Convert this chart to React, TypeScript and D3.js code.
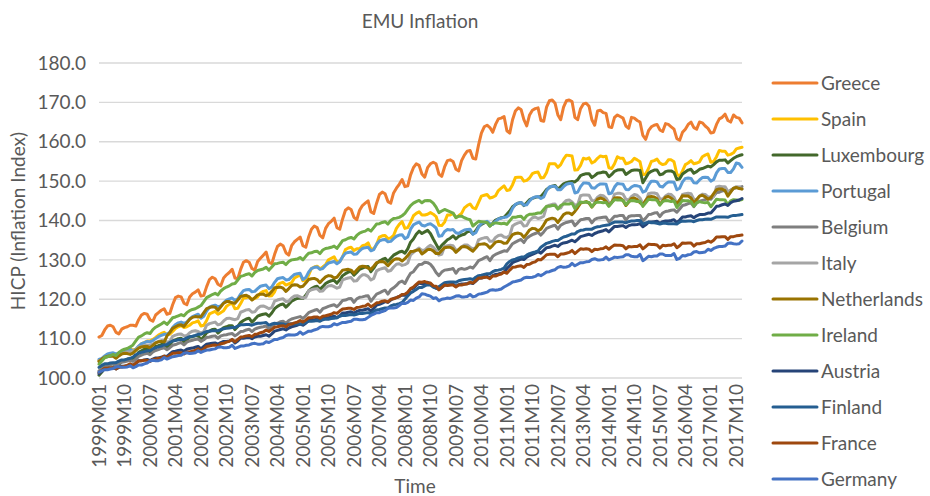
import React, { useEffect, useRef } from 'react';
import * as d3 from 'd3';

// months 1999M01 .. 2017M12
const years = [1999, 2000, 2001, 2002, 2003, 2004, 2005, 2006, 2007, 2008, 2009, 2010, 2011, 2012, 2013, 2014, 2015, 2016, 2017];
const monthCodes = ['01', '02', '03', '04', '05', '06', '07', '08', '09', '10', '11', '12'];
const categories = years.flatMap((yr) => monthCodes.map((m) => `${yr}M${m}`));

const xTickLabels = ['1999M01', '1999M10', '2000M07', '2001M04', '2002M01', '2002M10', '2003M07', '2004M04', '2005M01',
  '2005M10', '2006M07', '2007M04', '2008M01', '2008M10', '2009M07', '2010M04', '2011M01', '2011M10', '2012M07',
  '2013M04', '2014M01', '2014M10', '2015M07', '2016M04', '2017M01', '2017M10'];
const yTicks = [100, 110, 120, 130, 140, 150, 160, 170, 180];

// HICP index values, one row per year (Jan..Dec)
const greece = [
  110.4, 110.8, 112.2, 113.2, 113.4, 113.0, 111.6, 111.2, 112.4, 112.8, 113.0, 113.4,
  113.4, 113.2, 114.8, 116.0, 116.4, 116.2, 114.8, 114.4, 116.0, 116.6, 117.2, 117.6,
  116.2, 116.4, 118.6, 120.4, 120.8, 120.6, 119.0, 118.6, 120.6, 121.4, 121.8, 122.4,
  120.8, 121.0, 123.2, 125.0, 125.6, 125.2, 123.8, 123.4, 125.4, 126.2, 126.8, 127.6,
  125.4, 125.2, 127.6, 129.4, 129.8, 129.4, 127.8, 127.4, 129.6, 130.4, 131.2, 132.0,
  129.4, 129.0, 131.4, 133.4, 134.0, 133.6, 131.8, 131.2, 133.6, 134.6, 135.2, 135.8,
  133.6, 133.2, 135.8, 137.8, 138.6, 138.2, 136.2, 135.6, 138.0, 139.2, 139.8, 140.6,
  138.2, 137.8, 140.4, 142.6, 143.2, 142.8, 140.8, 140.2, 142.6, 143.8, 144.4, 145.0,
  142.2, 141.8, 144.4, 146.6, 147.2, 146.8, 144.8, 144.4, 147.0, 148.2, 149.2, 150.4,
  148.6, 148.8, 151.6, 153.4, 154.4, 154.0, 151.8, 151.0, 153.4, 154.4, 154.8, 154.4,
  151.8, 151.2, 153.6, 155.2, 155.4, 155.0, 153.0, 152.6, 155.2, 156.6, 157.6, 157.8,
  155.8, 155.6, 159.2, 162.2, 163.8, 164.2, 163.6, 162.4, 164.4, 165.8, 166.0, 166.4,
  162.8, 162.2, 165.6, 167.8, 168.6, 168.2, 165.6, 164.0, 166.8, 168.0, 168.4, 168.6,
  165.4, 165.2, 168.8, 170.4, 170.6, 169.8, 166.8, 165.6, 168.8, 170.4, 170.6, 170.2,
  166.2, 165.6, 168.4, 169.6, 169.8, 169.0, 165.6, 164.2, 167.8, 168.0, 167.4, 167.2,
  163.8, 163.6, 166.2, 166.8, 166.4, 166.0, 164.0, 163.4, 166.2, 166.0, 165.4, 165.0,
  161.6, 160.6, 162.8, 163.8, 164.2, 164.4, 163.0, 162.6, 164.6, 164.4, 163.8, 163.2,
  160.8, 160.4, 162.4, 163.2, 164.4, 165.0, 163.6, 163.2, 165.0, 164.8, 164.0, 163.4,
  162.2, 162.4, 164.4, 165.8, 166.2, 167.0, 165.4, 165.0, 166.8, 166.2, 166.0, 164.8,
];

const spain = [
  104.4, 104.5, 105.1, 105.7, 105.8, 105.9, 105.7, 105.9, 106.2, 106.7, 107.0, 107.3,
  107.1, 107.3, 108.0, 108.7, 109.0, 109.4, 109.4, 109.8, 110.3, 110.9, 111.3, 111.6,
  111.0, 111.1, 111.8, 112.6, 113.0, 113.3, 112.8, 113.0, 113.4, 114.0, 114.2, 114.5,
  113.2, 113.4, 114.6, 116.3, 116.6, 116.9, 116.2, 116.6, 117.1, 118.2, 118.7, 119.0,
  117.6, 117.7, 118.9, 120.3, 120.4, 120.6, 119.9, 120.2, 120.6, 121.6, 122.0, 122.2,
  120.8, 120.9, 121.9, 123.6, 124.1, 124.3, 123.6, 123.9, 124.2, 125.4, 125.8, 126.2,
  124.7, 124.9, 126.1, 127.8, 128.2, 128.4, 127.7, 128.2, 128.8, 130.0, 130.4, 130.8,
  129.4, 129.6, 130.8, 132.6, 133.0, 133.2, 132.4, 132.8, 132.8, 133.6, 133.8, 134.3,
  132.7, 132.8, 133.9, 135.8, 136.1, 136.2, 135.4, 135.6, 136.2, 138.0, 139.0, 139.7,
  138.0, 138.2, 139.6, 141.2, 141.8, 142.2, 141.4, 141.4, 141.6, 142.0, 141.6, 141.0,
  138.8, 138.7, 139.6, 141.4, 141.4, 141.8, 140.8, 141.2, 141.8, 143.2, 143.8, 144.2,
  143.2, 143.0, 144.6, 146.2, 146.4, 146.6, 145.7, 145.9, 146.3, 147.6, 148.2, 148.8,
  147.6, 147.8, 149.1, 150.9, 151.0, 151.0, 150.0, 150.2, 150.8, 151.9, 152.2, 152.3,
  150.8, 150.9, 152.2, 154.4, 154.4, 154.4, 153.5, 154.2, 155.6, 156.6, 156.5, 156.4,
  152.8, 152.9, 154.0, 155.8, 155.6, 155.9, 154.6, 155.0, 155.8, 156.4, 156.2, 156.3,
  153.4, 153.2, 154.4, 156.2, 155.8, 155.8, 154.4, 154.6, 155.0, 155.8, 155.4, 154.9,
  151.6, 151.8, 153.2, 155.0, 155.2, 155.6, 154.6, 154.2, 154.4, 155.4, 155.4, 154.9,
  151.8, 151.2, 152.6, 154.2, 154.6, 155.2, 154.4, 154.6, 154.9, 156.2, 156.6, 156.9,
  154.8, 155.0, 156.2, 157.8, 157.6, 157.6, 156.6, 156.8, 157.2, 158.2, 158.4, 158.6,
];

const luxembourg = [
  100.7, 101.5, 102.6, 103.1, 103.5, 103.7, 102.7, 103.4, 104.2, 104.5, 104.8, 104.9,
  104.6, 105.4, 106.5, 106.9, 107.3, 107.5, 106.5, 107.2, 108.0, 108.2, 108.5, 108.6,
  107.7, 108.4, 109.4, 109.7, 110.0, 110.1, 109.1, 109.7, 110.4, 110.5, 110.7, 110.7,
  109.7, 110.5, 111.5, 111.9, 112.3, 112.4, 111.4, 112.1, 112.8, 113.0, 113.3, 113.3,
  112.3, 113.1, 114.1, 114.6, 115.0, 115.2, 114.2, 114.9, 115.7, 116.0, 116.2, 116.3,
  115.7, 116.5, 117.6, 118.2, 118.6, 118.8, 118.0, 118.7, 119.5, 119.9, 120.2, 120.3,
  120.2, 121.0, 122.1, 122.7, 123.1, 123.3, 122.5, 123.2, 124.0, 124.4, 124.7, 124.8,
  124.1, 124.9, 126.0, 126.5, 126.9, 127.1, 126.1, 126.8, 127.6, 127.9, 128.2, 128.3,
  127.0, 127.9, 129.1, 129.7, 130.1, 130.4, 129.6, 130.4, 131.2, 131.6, 132.0, 132.2,
  131.7, 132.8, 134.5, 135.3, 136.5, 137.3, 136.7, 137.1, 137.5, 136.7, 135.3, 134.0,
  132.7, 133.7, 134.4, 135.1, 135.5, 136.1, 135.3, 136.0, 136.3, 136.5, 137.1, 137.3,
  136.6, 137.4, 138.5, 139.0, 139.4, 139.6, 138.6, 139.3, 140.1, 140.4, 140.7, 140.8,
  141.6, 142.4, 143.5, 144.0, 144.4, 144.6, 143.8, 144.5, 145.3, 145.6, 145.9, 146.0,
  146.1, 146.9, 147.9, 148.4, 148.7, 148.9, 147.9, 148.6, 149.3, 149.6, 149.8, 149.9,
  149.8, 150.4, 151.4, 151.7, 151.9, 151.9, 150.9, 151.4, 152.0, 152.1, 152.3, 152.2,
  151.1, 151.7, 152.5, 152.8, 152.9, 152.9, 151.7, 152.2, 152.7, 152.8, 152.8, 152.7,
  149.6, 150.8, 152.0, 152.5, 152.8, 152.8, 151.6, 151.8, 152.4, 152.6, 152.6, 152.2,
  150.4, 150.6, 151.8, 152.3, 152.8, 153.0, 152.0, 152.4, 153.0, 153.2, 153.5, 153.8,
  153.6, 154.2, 154.9, 155.3, 155.3, 155.4, 154.6, 155.2, 155.8, 156.2, 156.5, 156.7,
];

const portugal = [
  104.7, 105.0, 105.6, 106.1, 106.3, 106.4, 106.1, 106.3, 106.7, 107.0, 107.2, 107.3,
  106.9, 107.3, 108.1, 108.7, 109.0, 109.3, 109.2, 109.5, 110.0, 110.5, 110.8, 111.1,
  111.1, 111.6, 112.8, 113.6, 114.0, 114.2, 113.9, 114.2, 115.0, 115.6, 115.9, 116.2,
  115.2, 115.7, 117.0, 118.0, 118.3, 118.5, 118.1, 118.3, 119.1, 119.8, 120.1, 120.3,
  119.7, 120.1, 121.3, 122.2, 122.4, 122.5, 121.9, 122.0, 122.7, 123.3, 123.5, 123.6,
  122.7, 123.1, 124.3, 125.2, 125.4, 125.5, 124.9, 125.0, 125.7, 126.3, 126.5, 126.6,
  125.0, 125.5, 126.9, 127.8, 128.1, 128.2, 127.6, 127.8, 128.6, 129.2, 129.4, 129.6,
  129.0, 129.5, 130.8, 131.7, 131.9, 132.0, 131.4, 131.5, 132.3, 132.9, 133.1, 133.2,
  132.3, 132.6, 134.0, 134.8, 135.1, 135.2, 134.6, 134.7, 135.4, 136.0, 136.3, 136.4,
  135.4, 135.8, 137.8, 138.9, 139.3, 139.6, 138.8, 138.6, 139.0, 139.2, 138.7, 138.1,
  136.0, 136.1, 137.2, 137.7, 137.6, 137.7, 136.9, 136.7, 137.2, 137.6, 137.7, 137.8,
  136.5, 136.9, 138.3, 139.3, 139.5, 139.8, 139.2, 139.0, 139.8, 140.4, 140.6, 140.8,
  140.9, 141.5, 143.1, 144.1, 144.4, 144.6, 143.9, 144.0, 145.0, 145.7, 146.0, 146.1,
  145.6, 146.0, 147.6, 148.5, 148.7, 148.7, 147.8, 147.8, 148.6, 149.2, 149.4, 149.4,
  147.0, 147.2, 148.6, 149.5, 149.5, 149.4, 148.3, 148.2, 148.9, 149.3, 149.3, 149.2,
  146.8, 147.0, 148.5, 149.4, 149.3, 149.2, 147.9, 147.8, 148.5, 148.9, 148.8, 148.6,
  147.2, 147.5, 149.0, 150.0, 150.0, 149.8, 148.7, 148.5, 149.3, 149.8, 149.8, 149.7,
  147.8, 148.2, 149.8, 150.7, 150.8, 150.7, 149.6, 149.5, 150.3, 150.9, 151.0, 150.9,
  150.0, 150.4, 152.1, 153.1, 153.2, 153.2, 152.2, 152.2, 153.1, 154.6, 154.4, 153.5,
];

const belgium = [
  101.8, 102.4, 103.0, 103.1, 103.4, 103.6, 103.0, 103.7, 104.0, 104.1, 104.3, 104.5,
  104.2, 104.8, 105.5, 105.8, 106.1, 106.3, 105.9, 106.6, 107.0, 107.2, 107.5, 107.7,
  107.2, 107.7, 108.3, 108.5, 108.8, 109.0, 108.4, 109.1, 109.4, 109.6, 109.8, 109.9,
  109.3, 109.7, 110.3, 110.4, 110.6, 110.7, 110.1, 110.7, 110.9, 111.0, 111.2, 111.3,
  110.7, 111.2, 111.8, 111.9, 112.2, 112.4, 111.8, 112.4, 112.7, 112.9, 113.0, 113.2,
  112.5, 113.1, 113.7, 113.9, 114.3, 114.4, 113.9, 114.6, 115.0, 115.2, 115.4, 115.6,
  115.1, 115.8, 116.6, 116.9, 117.2, 117.4, 116.7, 117.6, 117.9, 118.2, 118.4, 118.6,
  118.1, 118.8, 119.7, 119.8, 120.1, 120.2, 119.2, 120.1, 120.5, 120.6, 120.8, 120.9,
  119.5, 120.4, 121.3, 121.6, 122.0, 122.3, 121.3, 122.4, 122.9, 123.5, 124.3, 124.6,
  124.0, 125.4, 126.6, 127.0, 128.0, 128.8, 128.9, 129.4, 129.3, 128.9, 128.0, 126.8,
  126.0, 126.9, 127.4, 127.5, 127.6, 127.8, 126.6, 127.6, 127.8, 127.6, 127.8, 128.2,
  127.9, 128.8, 129.8, 130.1, 130.5, 130.8, 129.8, 130.9, 131.4, 131.7, 132.0, 132.3,
  132.2, 133.1, 134.1, 134.5, 134.9, 135.2, 134.4, 135.5, 136.0, 136.4, 136.7, 137.0,
  136.3, 137.1, 138.0, 138.3, 138.6, 138.8, 137.8, 138.8, 139.2, 139.5, 139.7, 139.9,
  138.7, 139.4, 140.2, 140.3, 140.5, 140.5, 139.4, 140.3, 140.6, 140.7, 140.8, 140.9,
  139.7, 140.3, 141.1, 141.1, 141.3, 141.3, 140.1, 141.0, 141.2, 141.2, 141.3, 141.3,
  139.9, 140.6, 141.5, 141.6, 141.9, 142.0, 141.0, 141.9, 142.3, 142.4, 142.6, 142.7,
  142.1, 142.9, 143.8, 144.0, 144.3, 144.5, 143.5, 144.5, 144.9, 145.1, 145.3, 145.5,
  145.4, 146.2, 147.1, 147.2, 147.5, 147.7, 146.7, 147.7, 148.1, 148.3, 148.4, 148.6,
];

const italy = [
  104.4, 104.6, 105.2, 105.4, 105.6, 105.8, 105.7, 105.8, 106.2, 106.4, 106.6, 106.6,
  106.9, 107.1, 107.8, 108.0, 108.2, 108.4, 108.4, 108.6, 109.0, 109.3, 109.5, 109.6,
  109.1, 109.3, 110.6, 110.9, 111.1, 111.2, 110.7, 110.8, 111.5, 111.9, 112.0, 111.8,
  111.4, 111.8, 113.4, 113.8, 114.0, 114.2, 113.5, 113.7, 114.5, 115.1, 115.2, 115.0,
  114.8, 115.1, 116.7, 117.0, 117.3, 117.4, 116.7, 116.8, 117.7, 118.2, 118.3, 118.0,
  117.6, 117.9, 119.5, 119.8, 120.0, 120.1, 119.4, 119.5, 120.3, 120.8, 120.9, 120.6,
  120.3, 120.5, 122.1, 122.4, 122.6, 122.7, 122.0, 122.1, 122.9, 123.4, 123.5, 123.2,
  122.8, 123.1, 124.9, 125.2, 125.4, 125.5, 124.6, 124.7, 125.6, 126.2, 126.2, 125.8,
  124.9, 125.3, 127.2, 127.6, 127.8, 128.0, 127.1, 127.3, 128.2, 128.9, 129.0, 128.6,
  128.8, 129.2, 131.3, 131.9, 132.5, 133.0, 132.4, 132.5, 133.2, 133.7, 133.2, 132.4,
  131.2, 131.4, 133.4, 133.6, 133.7, 133.6, 132.5, 132.5, 133.3, 133.8, 133.8, 133.2,
  132.8, 133.1, 135.1, 135.4, 135.6, 135.7, 134.7, 134.7, 135.7, 136.2, 136.3, 135.8,
  135.7, 136.2, 138.6, 139.1, 139.4, 139.6, 138.6, 138.7, 140.0, 140.7, 140.9, 140.5,
  140.7, 141.1, 143.5, 143.9, 144.1, 144.2, 143.1, 143.2, 144.4, 145.1, 145.2, 144.7,
  143.9, 144.1, 146.3, 146.5, 146.5, 146.4, 145.1, 145.0, 145.9, 146.4, 146.3, 145.7,
  144.5, 144.6, 146.7, 146.9, 146.9, 146.7, 145.4, 145.2, 146.1, 146.6, 146.4, 145.7,
  144.3, 144.7, 146.8, 147.0, 147.0, 146.8, 145.5, 145.4, 146.2, 146.7, 146.6, 145.9,
  144.3, 144.4, 146.6, 146.8, 146.9, 146.8, 145.4, 145.3, 146.2, 146.7, 146.6, 146.0,
  146.0, 146.1, 148.5, 148.7, 148.6, 148.6, 147.4, 147.4, 148.2, 148.6, 148.5, 148.0,
];

const netherlands = [
  104.2, 104.8, 105.3, 105.5, 105.6, 105.5, 105.0, 105.6, 106.1, 106.3, 106.2, 106.0,
  106.3, 107.0, 107.6, 107.9, 108.0, 108.0, 107.7, 108.3, 108.9, 109.2, 109.3, 109.1,
  110.7, 111.6, 112.6, 113.0, 113.4, 113.5, 113.1, 114.0, 114.9, 115.4, 115.6, 115.5,
  115.6, 116.6, 117.6, 117.9, 118.1, 118.0, 117.2, 118.1, 119.0, 119.4, 119.4, 119.1,
  119.0, 119.8, 120.7, 120.9, 121.0, 120.6, 119.8, 120.4, 121.1, 121.3, 121.3, 120.9,
  121.2, 122.0, 122.9, 123.0, 123.1, 122.8, 122.0, 122.7, 123.5, 123.7, 123.6, 123.1,
  123.3, 124.1, 125.0, 125.2, 125.3, 125.0, 124.2, 125.0, 125.7, 126.0, 125.9, 125.4,
  125.6, 126.5, 127.4, 127.5, 127.6, 127.4, 126.6, 127.4, 128.2, 128.4, 128.3, 127.9,
  127.6, 128.4, 129.3, 129.5, 129.6, 129.3, 128.5, 129.3, 130.0, 130.3, 130.2, 129.7,
  130.3, 131.1, 132.1, 132.2, 132.4, 132.6, 131.5, 132.0, 132.6, 132.7, 132.3, 131.6,
  131.6, 132.4, 133.1, 133.2, 133.2, 132.8, 131.9, 132.6, 133.3, 133.4, 133.2, 132.7,
  132.2, 133.0, 133.9, 134.0, 134.1, 133.8, 133.0, 133.7, 134.5, 134.7, 134.6, 134.2,
  134.3, 135.4, 136.4, 136.7, 136.8, 136.6, 135.7, 136.6, 137.6, 138.0, 137.9, 137.4,
  137.8, 138.9, 140.1, 140.4, 140.6, 140.4, 139.5, 140.5, 141.5, 141.9, 141.9, 141.5,
  142.3, 143.3, 144.4, 144.6, 144.8, 144.4, 143.4, 144.3, 145.4, 145.7, 145.5, 144.8,
  143.8, 144.6, 145.7, 145.8, 145.7, 145.1, 143.8, 144.7, 145.6, 145.7, 145.3, 144.5,
  144.0, 145.1, 146.0, 146.1, 146.0, 145.5, 144.1, 145.0, 145.9, 146.1, 145.7, 145.0,
  144.3, 145.2, 146.3, 146.2, 146.2, 145.7, 144.4, 145.3, 146.2, 146.4, 146.0, 145.4,
  145.8, 146.8, 147.8, 148.0, 148.0, 147.6, 146.2, 147.2, 148.2, 148.4, 148.1, 148.0,
];

const ireland = [
  103.5, 104.3, 105.2, 105.4, 105.7, 106.0, 105.7, 106.5, 107.0, 107.3, 107.5, 107.9,
  108.4, 109.4, 110.4, 110.7, 111.2, 111.5, 111.3, 112.3, 112.9, 113.3, 113.7, 114.2,
  113.6, 114.4, 115.3, 115.5, 115.8, 116.1, 115.8, 116.6, 117.1, 117.4, 117.6, 118.0,
  118.4, 119.4, 120.4, 120.8, 121.2, 121.5, 121.1, 122.1, 122.7, 123.1, 123.4, 123.9,
  124.0, 124.9, 125.8, 126.0, 126.3, 126.5, 125.9, 126.8, 127.3, 127.5, 127.7, 128.1,
  127.4, 128.2, 129.0, 129.1, 129.3, 129.4, 128.8, 129.6, 130.0, 130.1, 130.2, 130.6,
  130.0, 130.9, 131.7, 131.8, 132.1, 132.2, 131.6, 132.5, 132.9, 133.0, 133.2, 133.5,
  132.9, 133.9, 134.9, 135.1, 135.5, 135.7, 135.3, 136.2, 136.8, 137.1, 137.3, 137.8,
  137.3, 138.2, 139.1, 139.2, 139.5, 139.7, 139.1, 140.0, 140.5, 140.6, 140.8, 141.2,
  141.8, 142.8, 143.8, 144.4, 144.8, 145.1, 144.5, 145.0, 145.1, 145.0, 144.4, 143.4,
  142.0, 142.4, 142.8, 142.5, 142.2, 141.9, 140.7, 141.1, 141.1, 140.7, 140.4, 140.2,
  138.6, 139.2, 139.8, 139.7, 139.6, 139.5, 138.6, 139.2, 139.4, 139.3, 139.2, 139.3,
  139.0, 139.9, 140.8, 140.8, 141.0, 141.1, 140.3, 141.2, 141.6, 141.6, 141.7, 141.9,
  141.9, 142.8, 143.6, 143.6, 143.8, 143.8, 142.9, 143.8, 144.2, 144.2, 144.2, 144.4,
  143.0, 143.9, 144.7, 144.6, 144.7, 144.6, 143.5, 144.4, 144.7, 144.6, 144.5, 144.6,
  143.6, 144.5, 145.3, 145.2, 145.2, 145.1, 144.0, 144.8, 145.1, 145.0, 144.8, 144.9,
  143.6, 144.5, 145.4, 145.3, 145.3, 145.1, 143.9, 144.8, 145.1, 145.0, 144.8, 145.0,
  143.3, 144.2, 145.1, 145.0, 145.0, 144.8, 143.6, 144.5, 144.8, 144.6, 144.5, 144.6,
  143.5, 144.4, 145.4, 145.3, 145.3, 145.2, 144.0, 145.0, 145.3, 145.2, 145.1, 145.3,
];

const austria = [
  101.1, 101.7, 102.3, 102.4, 102.5, 102.6, 102.3, 102.7, 103.0, 103.0, 103.1, 103.4,
  103.2, 103.7, 104.4, 104.4, 104.6, 104.7, 104.4, 104.8, 105.1, 105.1, 105.3, 105.5,
  105.5, 106.1, 106.7, 106.8, 107.0, 107.1, 106.8, 107.3, 107.5, 107.6, 107.8, 108.0,
  107.4, 108.0, 108.6, 108.7, 108.8, 108.9, 108.6, 109.0, 109.3, 109.3, 109.4, 109.7,
  108.9, 109.4, 110.1, 110.1, 110.2, 110.3, 110.0, 110.4, 110.6, 110.6, 110.8, 111.0,
  110.6, 111.2, 111.9, 112.1, 112.3, 112.5, 112.2, 112.7, 113.0, 113.2, 113.4, 113.7,
  113.4, 113.9, 114.6, 114.6, 114.8, 114.9, 114.6, 115.0, 115.3, 115.3, 115.5, 115.7,
  115.3, 115.8, 116.5, 116.5, 116.7, 116.8, 116.5, 116.9, 117.2, 117.2, 117.4, 117.6,
  117.0, 117.7, 118.5, 118.7, 119.0, 119.4, 119.2, 119.8, 120.2, 120.4, 120.7, 121.1,
  121.0, 121.5, 122.6, 122.8, 123.5, 124.1, 123.9, 124.0, 124.3, 123.9, 123.2, 122.8,
  122.5, 123.0, 123.6, 123.6, 123.7, 123.8, 123.3, 123.7, 123.9, 123.9, 124.0, 124.2,
  124.0, 124.6, 125.3, 125.4, 125.6, 125.8, 125.5, 126.0, 126.3, 126.4, 126.6, 126.9,
  127.8, 128.5, 129.3, 129.6, 129.9, 130.2, 130.1, 130.7, 131.1, 131.4, 131.7, 132.1,
  131.7, 132.4, 133.1, 133.2, 133.5, 133.7, 133.4, 134.0, 134.3, 134.4, 134.7, 135.0,
  134.6, 135.2, 135.9, 136.1, 136.3, 136.5, 136.2, 136.7, 137.0, 137.2, 137.4, 137.7,
  137.1, 137.8, 138.5, 138.5, 138.6, 138.7, 138.2, 138.7, 138.9, 138.9, 139.0, 139.2,
  138.4, 138.9, 139.6, 139.6, 139.7, 139.8, 139.3, 139.7, 139.9, 139.9, 140.0, 140.2,
  139.5, 140.1, 140.9, 140.9, 141.1, 141.2, 140.7, 141.2, 141.5, 141.5, 141.6, 141.9,
  141.9, 142.7, 143.6, 143.7, 144.0, 144.2, 143.8, 144.5, 144.9, 145.0, 145.2, 145.6,
];

const finland = [
  102.7, 103.2, 103.6, 103.6, 103.8, 103.9, 103.9, 104.3, 104.6, 104.6, 104.8, 105.0,
  105.3, 105.9, 106.3, 106.5, 106.7, 106.9, 106.9, 107.4, 107.7, 107.9, 108.1, 108.4,
  108.5, 109.0, 109.4, 109.5, 109.7, 109.8, 109.8, 110.2, 110.5, 110.6, 110.8, 111.1,
  111.1, 111.5, 111.8, 111.9, 112.0, 112.0, 112.0, 112.3, 112.5, 112.6, 112.7, 112.8,
  112.8, 113.2, 113.5, 113.5, 113.6, 113.6, 113.4, 113.7, 113.9, 113.9, 114.0, 114.1,
  113.4, 113.7, 113.9, 113.8, 113.8, 113.7, 113.5, 113.7, 113.8, 113.7, 113.7, 113.8,
  113.7, 114.1, 114.4, 114.4, 114.5, 114.6, 114.4, 114.8, 115.0, 114.9, 115.1, 115.2,
  115.3, 115.7, 115.9, 115.9, 116.0, 116.1, 116.0, 116.2, 116.4, 116.4, 116.5, 116.6,
  116.3, 116.9, 117.3, 117.4, 117.6, 117.8, 117.8, 118.3, 118.6, 118.7, 118.9, 119.2,
  120.0, 120.8, 121.6, 122.0, 122.5, 123.0, 123.0, 123.4, 123.7, 123.6, 123.1, 122.8,
  123.2, 123.7, 124.2, 124.3, 124.4, 124.4, 124.3, 124.7, 124.9, 125.0, 125.1, 125.2,
  125.0, 125.6, 126.0, 126.1, 126.3, 126.5, 126.5, 127.0, 127.3, 127.4, 127.6, 127.9,
  129.0, 129.6, 130.0, 130.2, 130.5, 130.7, 130.7, 131.2, 131.6, 131.8, 132.0, 132.3,
  133.2, 133.7, 134.2, 134.4, 134.7, 134.9, 134.9, 135.4, 135.8, 136.0, 136.3, 136.6,
  136.6, 137.2, 137.5, 137.6, 137.8, 137.8, 137.8, 138.2, 138.4, 138.5, 138.7, 138.8,
  138.9, 139.3, 139.6, 139.6, 139.6, 139.6, 139.4, 139.7, 139.9, 139.9, 140.0, 140.0,
  139.1, 139.4, 139.6, 139.4, 139.4, 139.3, 139.1, 139.3, 139.3, 139.2, 139.2, 139.2,
  139.1, 139.6, 139.9, 139.8, 139.9, 139.9, 139.7, 140.0, 140.2, 140.2, 140.3, 140.4,
  140.3, 140.6, 140.9, 140.9, 140.9, 140.9, 140.8, 141.1, 141.3, 141.3, 141.4, 141.5,
];

const france = [
  101.4, 101.9, 102.5, 102.5, 102.6, 102.6, 102.3, 102.8, 102.8, 103.0, 103.2, 103.6,
  103.2, 103.8, 104.3, 104.4, 104.5, 104.5, 104.2, 104.7, 104.8, 105.0, 105.1, 105.6,
  105.2, 105.7, 106.3, 106.3, 106.4, 106.4, 106.1, 106.6, 106.6, 106.8, 107.0, 107.4,
  106.9, 107.4, 108.0, 108.1, 108.3, 108.4, 108.1, 108.7, 108.8, 109.1, 109.3, 109.8,
  109.2, 109.8, 110.4, 110.5, 110.7, 110.8, 110.5, 111.1, 111.2, 111.5, 111.7, 112.2,
  111.8, 112.3, 112.9, 113.0, 113.2, 113.3, 113.0, 113.6, 113.7, 114.0, 114.2, 114.6,
  114.2, 114.7, 115.3, 115.3, 115.5, 115.5, 115.2, 115.7, 115.8, 116.0, 116.2, 116.6,
  116.4, 117.0, 117.5, 117.6, 117.7, 117.7, 117.4, 117.9, 118.0, 118.2, 118.3, 118.8,
  118.1, 118.5, 119.1, 119.2, 119.5, 119.6, 119.3, 120.0, 120.1, 120.4, 120.7, 121.2,
  121.3, 121.8, 122.7, 123.1, 123.8, 124.4, 124.3, 124.5, 124.2, 124.1, 123.4, 123.3,
  122.4, 123.0, 123.6, 123.5, 123.6, 123.6, 123.1, 123.6, 123.6, 123.8, 123.9, 124.3,
  124.1, 124.7, 125.4, 125.4, 125.6, 125.6, 125.2, 125.9, 125.9, 126.2, 126.4, 126.9,
  126.6, 127.4, 128.1, 128.2, 128.4, 128.5, 128.1, 128.8, 128.9, 129.3, 129.5, 130.1,
  130.0, 130.6, 131.3, 131.4, 131.4, 131.4, 130.8, 131.5, 131.5, 131.7, 131.9, 132.4,
  131.6, 132.2, 132.8, 132.7, 132.8, 132.7, 132.1, 132.7, 132.6, 132.8, 132.9, 133.3,
  132.7, 133.3, 133.8, 133.7, 133.7, 133.6, 132.8, 133.4, 133.3, 133.4, 133.4, 133.8,
  132.8, 133.4, 134.0, 133.9, 133.9, 133.8, 133.0, 133.7, 133.6, 133.7, 133.7, 134.1,
  133.1, 133.6, 134.3, 134.2, 134.3, 134.3, 133.5, 134.1, 134.1, 134.3, 134.4, 134.8,
  134.5, 135.0, 135.8, 135.8, 135.9, 135.9, 135.2, 135.9, 135.9, 136.1, 136.2, 136.3,
];

const germany = [
  101.5, 101.8, 102.1, 102.1, 102.3, 102.4, 102.8, 102.9, 102.7, 102.7, 102.8, 103.1,
  102.6, 102.9, 103.3, 103.3, 103.6, 103.8, 104.3, 104.5, 104.4, 104.4, 104.6, 105.2,
  104.8, 105.1, 105.4, 105.5, 105.7, 105.8, 106.3, 106.4, 106.2, 106.3, 106.4, 106.9,
  106.5, 106.8, 107.1, 107.1, 107.3, 107.4, 107.8, 107.9, 107.7, 107.7, 107.8, 108.3,
  107.5, 107.8, 108.1, 108.1, 108.3, 108.4, 108.7, 108.8, 108.6, 108.6, 108.7, 109.2,
  109.0, 109.4, 109.8, 109.8, 110.1, 110.3, 110.8, 111.0, 110.9, 110.9, 111.1, 111.7,
  111.1, 111.5, 111.9, 111.9, 112.2, 112.4, 112.9, 113.1, 113.0, 113.0, 113.2, 113.8,
  113.5, 113.8, 114.1, 114.1, 114.3, 114.4, 114.9, 114.9, 114.8, 114.8, 114.9, 115.4,
  115.9, 116.2, 116.6, 116.6, 116.9, 117.1, 117.7, 117.8, 117.8, 117.9, 118.4, 119.0,
  118.9, 119.2, 119.8, 119.7, 120.3, 120.6, 121.4, 121.3, 121.0, 120.8, 120.2, 120.4,
  119.6, 120.0, 120.1, 120.3, 120.2, 120.5, 120.8, 120.9, 120.6, 120.6, 120.7, 121.2,
  120.6, 120.8, 121.3, 121.4, 121.6, 121.8, 122.3, 122.4, 122.3, 122.4, 122.6, 123.1,
  123.5, 123.9, 124.4, 124.5, 124.7, 124.9, 125.4, 125.6, 125.5, 125.6, 125.8, 126.3,
  126.0, 126.4, 126.9, 127.0, 127.3, 127.5, 128.1, 128.3, 128.1, 128.2, 128.4, 129.1,
  128.5, 128.9, 129.3, 129.3, 129.5, 129.6, 130.1, 130.3, 130.0, 130.0, 130.1, 130.7,
  130.0, 130.3, 130.7, 130.6, 130.7, 130.8, 131.3, 131.3, 130.9, 130.8, 130.8, 131.4,
  129.8, 130.3, 130.9, 130.8, 131.0, 131.0, 131.5, 131.5, 131.1, 131.1, 131.1, 131.6,
  130.1, 130.4, 131.1, 131.0, 131.3, 131.4, 132.0, 132.1, 131.8, 131.9, 132.0, 132.7,
  132.4, 132.9, 133.2, 133.4, 133.4, 133.5, 134.2, 134.3, 134.1, 134.0, 134.1, 134.8,
];

const seriesNames = ['Greece', 'Spain', 'Luxembourg', 'Portugal', 'Belgium', 'Italy', 'Netherlands', 'Ireland', 'Austria', 'Finland', 'France', 'Germany'];
const seriesColors = ['#ED7D31', '#FFC000', '#43682B', '#5B9BD5', '#7F7F7F', '#A5A5A5', '#997300', '#70AD47', '#264478', '#255E91', '#9E480E', '#4472C4'];
const seriesValues = [greece, spain, luxembourg, portugal, belgium, italy, netherlands, ireland, austria, finland, france, germany];

const FONT = 'Lato, "Open Sans", sans-serif';
const TEXT = '#595959';

const EmuInflationChart = () => {
  const ref = useRef<SVGSVGElement>(null);

  useEffect(() => {
    const svg = d3.select(ref.current);
    svg.selectAll('*').remove();

    const left = 99;
    const right = 742;
    const top = 63;
    const bottom = 378;

    const x = d3.scalePoint<string>().domain(categories).range([left, right]);
    const y = d3.scaleLinear().domain([100, 180]).range([bottom, top]);

    // horizontal gridlines
    svg.append('g')
      .selectAll('line')
      .data(yTicks)
      .enter().append('line')
      .attr('x1', left)
      .attr('x2', right)
      .attr('y1', (d) => y(d))
      .attr('y2', (d) => y(d))
      .attr('stroke', '#d9d9d9')
      .attr('stroke-width', 1.3);

    // y tick labels
    svg.append('g')
      .selectAll('text')
      .data(yTicks)
      .enter().append('text')
      .attr('x', 86)
      .attr('y', (d) => y(d))
      .attr('dy', '0.35em')
      .attr('text-anchor', 'end')
      .style('font-size', '19px')
      .attr('fill', TEXT)
      .text((d) => d3.format('.1f')(d));

    // x tick labels, rotated
    svg.append('g')
      .selectAll('text')
      .data(xTickLabels)
      .enter().append('text')
      .attr('transform', (d) => `translate(${x(d)}, 384) rotate(-90)`)
      .attr('dy', '0.35em')
      .attr('text-anchor', 'end')
      .style('font-size', '19px')
      .attr('fill', TEXT)
      .text((d) => d);

    // series lines
    const line = d3.line<number>()
      .x((d, i) => x(categories[i]) as number)
      .y((d) => y(d));

    svg.append('g')
      .selectAll('path')
      .data(seriesValues)
      .enter().append('path')
      .attr('d', (d) => line(d))
      .attr('fill', 'none')
      .attr('stroke', (d, i) => seriesColors[i])
      .attr('stroke-width', 3)
      .attr('stroke-linejoin', 'round')
      .attr('stroke-linecap', 'round');

    // legend
    const legend = svg.append('g')
      .selectAll('g')
      .data(seriesNames)
      .enter().append('g')
      .attr('transform', (d, i) => `translate(773, ${83 + i * 36})`);

    legend.append('line')
      .attr('x1', 0)
      .attr('x2', 44)
      .attr('stroke', (d, i) => seriesColors[i])
      .attr('stroke-width', 3)
      .attr('stroke-linecap', 'round');

    legend.append('text')
      .attr('x', 48)
      .attr('dy', '0.35em')
      .style('font-size', '19px')
      .attr('fill', TEXT)
      .text((d) => d);

    // titles
    svg.append('text')
      .attr('x', 420)
      .attr('y', 28)
      .attr('text-anchor', 'middle')
      .style('font-size', '19px')
      .attr('fill', TEXT)
      .text('EMU Inflation');

    svg.append('text')
      .attr('x', 415)
      .attr('y', 493)
      .attr('text-anchor', 'middle')
      .style('font-size', '19px')
      .attr('fill', TEXT)
      .text('Time');

    svg.append('text')
      .attr('transform', 'translate(25, 221) rotate(-90)')
      .attr('text-anchor', 'middle')
      .style('font-size', '19px')
      .attr('fill', TEXT)
      .text('HICP (Inflation Index)');
  });

  return (
    <svg ref={ref} width={930} height={496}
      style={{ position: 'absolute', left: 0, top: 0, background: '#ffffff', fontFamily: FONT }} />
  );
};

export default function App() {
  return <EmuInflationChart />;
}
